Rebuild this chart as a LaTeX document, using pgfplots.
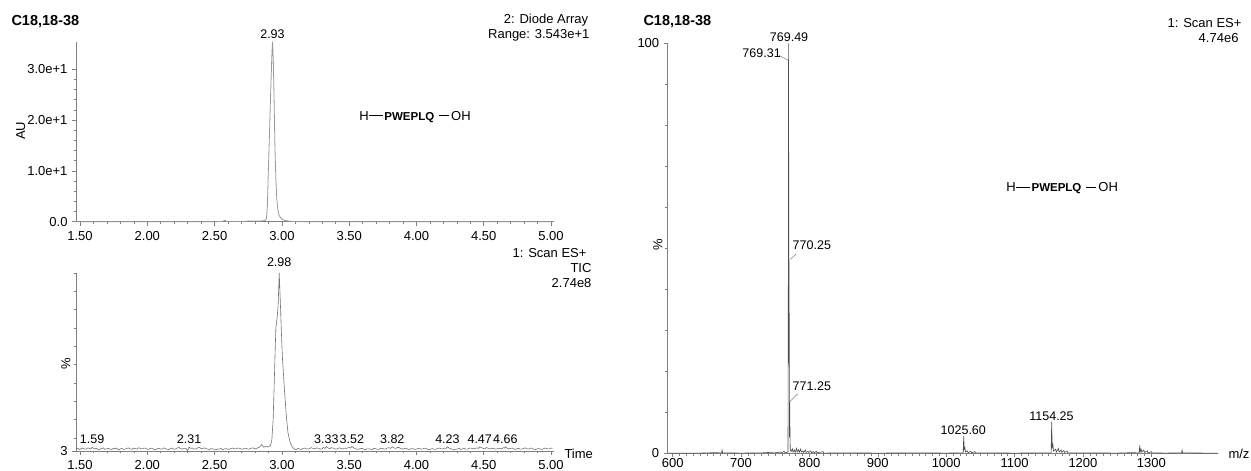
\documentclass[border=0pt]{standalone}
\usepackage{pgfplots}
\pgfplotsset{compat=1.18}
\usepackage{fontspec}
\setmainfont{Liberation Sans}
\definecolor{ax}{gray}{0.5}
\definecolor{tr1}{gray}{0.6}
\definecolor{tr2}{gray}{0.45}
\definecolor{tr3}{gray}{0.3}
\newcommand{\fs}[1]{\fontsize{#1bp}{#1bp}\selectfont}
\newcommand{\pep}{\fs{13}H\rule[4.4bp]{14bp}{0.8bp}\hspace{1.7bp}{\fs{11.5}\bfseries PWEPLQ}\hspace{5bp}\rule[4.4bp]{10bp}{0.8bp}\hspace{2bp}OH}
\pgfplotsset{
  ms/.style={
    scale only axis, clip=false,
    axis lines*=left,
    axis line style={-, draw=ax, line width=0.7bp},
    tick align=outside,
    tick style={draw=ax, line width=0.6bp},
    major tick length=4bp, minor tick length=2.5bp,
    tick label style={font=\fs{13}, black},
    /pgf/number format/assume math mode=true,
    xticklabel style={inner sep=1bp, yshift=-4.3bp},
    yticklabel style={xshift=-1bp},
  }
}
\begin{document}
\begin{tikzpicture}[x=1bp,y=1bp]
\useasboundingbox (0,0) rectangle (1251,471);

% ---------------- top-left: Diode array ----------------
\begin{axis}[ms,
  at={(76bp,249.3bp)}, anchor=south west,
  width=478bp, height=180bp,
  xmin=1.47, xmax=5.022, ymin=0, ymax=35.43,
  xtick={1.5,2,2.5,3,3.5,4,4.5,5},
  xticklabels={1.50,2.00,2.50,3.00,3.50,4.00,4.50,5.00},
  minor x tick num=4,
  ytick={0,10,20,30},
  yticklabels={0.0,1.0e+1,2.0e+1,3.0e+1},
  minor y tick num=4,
]
\addplot[tr1, line width=0.8bp] table {
1.470 0.00
2.500 0.00
2.560 0.05
2.575 0.25
2.590 0.05
2.700 0.02
2.750 0.12
2.800 0.15
2.850 0.15
2.875 0.25
2.885 0.6
2.892 3.0
2.898 9.0
2.905 15.0
2.915 24.0
2.925 32.5
2.930 35.43
2.936 32.0
2.942 24.0
2.948 15.0
2.955 8.5
2.962 4.5
2.970 2.4
2.980 1.2
2.995 0.6
3.020 0.25
3.060 0.08
3.100 0.02
3.200 0.00
5.022 0.00
};
\node[font=\fs{12.5}] at (axis cs:2.93,36.95) {2.93};
\node[anchor=west] at (axis cs:3.549,20.6) {\pep};
\end{axis}

% ---------------- bottom-left: TIC ----------------
\begin{axis}[ms,
  at={(76bp,20bp)}, anchor=south west,
  width=478bp, height=178bp,
  xmin=1.47, xmax=5.022, ymin=3, ymax=100,
  xtick={1.5,2,2.5,3,3.5,4,4.5,5},
  xticklabels={1.50,2.00,2.50,3.00,3.50,4.00,4.50,5.00},
  minor x tick num=4,
  ytick={3}, yticklabels={3},
  minor ytick={10,20,30,40,50,60,70,80,90,100},
]
\addplot[tr2, line width=0.6bp] table {
1.470 4.2
1.482 4.6
1.495 3.8
1.508 4.3
1.520 4.6
1.532 4.1
1.545 4.0
1.558 4.7
1.570 4.4
1.580 4.0
1.590 5.0
1.600 4.5
1.610 4.1
1.622 4.5
1.635 3.7
1.648 4.0
1.660 4.3
1.672 4.7
1.685 3.9
1.698 4.2
1.710 4.5
1.722 4.1
1.735 3.8
1.748 4.4
1.760 4.2
1.772 4.6
1.785 3.6
1.798 4.1
1.810 4.4
1.822 3.9
1.835 4.0
1.848 4.4
1.860 4.7
1.872 4.2
1.885 3.9
1.898 4.6
1.910 4.3
1.922 4.0
1.935 4.8
1.948 4.4
1.960 4.1
1.972 4.5
1.985 4.6
1.998 4.0
2.010 3.9
2.022 4.5
2.035 4.4
2.048 3.9
2.060 3.7
2.072 4.2
2.085 4.5
2.098 4.1
2.110 4.0
2.122 4.7
2.135 4.3
2.148 3.9
2.160 3.8
2.172 4.3
2.185 4.6
2.198 4.0
2.210 4.1
2.222 4.6
2.235 4.9
2.248 4.3
2.260 4.0
2.272 4.4
2.285 4.5
2.300 3.2
2.310 5.2
2.322 4.4
2.335 4.6
2.348 4.0
2.360 4.1
2.372 4.6
2.385 5.0
2.398 4.4
2.410 4.2
2.422 4.7
2.435 4.4
2.448 4.0
2.460 3.8
2.472 4.3
2.485 4.2
2.498 3.9
2.510 3.6
2.522 4.1
2.535 4.0
2.548 4.4
2.560 3.7
2.572 4.1
2.585 4.3
2.598 3.9
2.610 4.0
2.622 4.4
2.635 4.6
2.648 4.1
2.660 4.2
2.672 4.6
2.685 4.5
2.698 4.1
2.710 4.0
2.722 4.5
2.735 4.4
2.748 4.0
2.760 4.1
2.772 4.5
2.785 4.7
2.798 4.2
2.810 4.3
2.822 4.8
2.835 5.2
2.850 6.5
2.865 5.0
2.880 5.6
2.900 5.2
2.915 6.0
2.925 9.0
2.935 20.0
2.945 45.0
2.955 70.0
2.965 76.0
2.972 82.0
2.980 100.0
2.988 85.0
2.995 70.0
3.005 52.0
3.010 47.0
3.020 35.0
3.033 22.0
3.045 13.0
3.060 8.0
3.075 5.5
3.090 4.2
3.105 3.6
3.112 4.1
3.120 4.4
3.132 4.0
3.145 3.9
3.158 4.4
3.170 4.6
3.182 4.2
3.195 4.1
3.208 4.5
3.220 4.8
3.232 4.3
3.245 4.2
3.258 4.7
3.270 4.5
3.282 4.1
3.295 4.0
3.310 4.9
3.320 4.4
3.330 5.4
3.342 4.7
3.355 4.3
3.368 4.8
3.380 4.6
3.392 4.2
3.405 4.0
3.418 4.5
3.430 4.7
3.442 4.3
3.455 4.1
3.468 4.6
3.480 4.4
3.490 4.7
3.500 5.0
3.510 4.6
3.520 5.5
3.532 4.8
3.545 4.3
3.558 4.0
3.570 3.9
3.582 4.3
3.595 4.4
3.608 4.0
3.620 3.7
3.632 4.1
3.645 4.2
3.658 4.0
3.670 3.8
3.682 4.4
3.695 4.3
3.708 3.9
3.720 3.9
3.732 4.4
3.745 4.5
3.758 4.0
3.770 4.1
3.782 4.6
3.795 4.8
3.808 4.4
3.820 5.3
3.832 4.7
3.845 4.4
3.858 4.9
3.870 4.9
3.882 4.4
3.895 4.0
3.908 4.3
3.920 4.5
3.932 4.1
3.945 3.8
3.958 4.2
3.970 4.3
3.982 4.0
3.995 3.9
4.008 4.3
4.020 4.5
4.032 4.1
4.045 4.0
4.058 4.5
4.070 4.4
4.082 4.0
4.095 3.7
4.108 4.1
4.120 4.3
4.132 3.9
4.145 4.0
4.158 4.4
4.170 4.6
4.182 4.2
4.195 4.1
4.210 4.6
4.220 4.4
4.230 5.3
4.242 4.6
4.255 4.2
4.268 3.9
4.280 3.6
4.292 4.0
4.305 4.1
4.318 4.4
4.330 3.8
4.342 4.2
4.355 4.4
4.368 4.0
4.380 4.0
4.392 4.5
4.405 4.6
4.418 4.2
4.430 4.2
4.440 4.5
4.450 4.7
4.460 4.4
4.470 5.3
4.482 4.8
4.495 4.5
4.508 4.2
4.520 4.9
4.532 4.5
4.545 4.1
4.558 4.4
4.570 4.5
4.582 4.1
4.595 4.0
4.608 4.5
4.620 4.4
4.632 4.2
4.645 4.8
4.652 4.5
4.660 5.3
4.672 4.6
4.685 4.2
4.698 4.4
4.710 4.6
4.722 4.2
4.735 3.9
4.748 4.3
4.760 4.4
4.772 4.0
4.785 4.0
4.798 4.5
4.810 4.7
4.822 4.2
4.835 4.1
4.848 4.6
4.860 4.5
4.872 4.0
4.885 3.8
4.898 4.2
4.910 4.3
4.922 4.0
4.935 3.9
4.948 4.4
4.960 4.6
4.972 4.2
4.985 4.1
4.998 4.6
5.010 4.4
};
\node[font=\fs{12.5}] at (axis cs:2.98,106) {2.98};
\node[font=\fs{12.5}] at (axis cs:1.59,9.6) {1.59};
\node[font=\fs{12.5}] at (axis cs:2.31,9.6) {2.31};
\node[font=\fs{12.5}] at (axis cs:3.33,9.6) {3.33};
\node[font=\fs{12.5}] at (axis cs:3.52,9.6) {3.52};
\node[font=\fs{12.5}] at (axis cs:3.82,9.6) {3.82};
\node[font=\fs{12.5}] at (axis cs:4.23,9.6) {4.23};
\node[font=\fs{12.5}] at (axis cs:4.47,9.6) {4.47};
\node[font=\fs{12.5}] at (axis cs:4.66,9.6) {4.66};
\end{axis}

% ---------------- right: spectrum ----------------
\begin{axis}[ms,
  at={(667.7bp,17.7bp)}, anchor=south west,
  width=550.3bp, height=409.8bp,
  xmin=592.7, xmax=1397.5, ymin=0, ymax=100,
  xtick={600,700,800,900,1000,1100,1200,1300},
  xticklabels={600,700,800,900,1000,1100,1200,1300},
  minor x tick num=9,
  ytick={0,100},
  yticklabels={0,100},
  minor ytick={10,20,30,40,50,60,70,80,90},
  xticklabel style={yshift=4bp},
]
\addplot[tr3, line width=0.6bp] table {
592.7 0.05
640 0.05
660 0.15
671.5 0.1
672.2 0.8
673.0 0.1
700 0.05
730 0.1
745 0.25
746 0.05
758 0.3
759 0.05
763 0.5
764 0.1
768.6 0.3
769.0 30
769.31 96
769.40 88
769.49 100
769.70 62
769.95 22
770.10 40
770.25 47
770.45 25
770.80 4
771.05 7
771.25 12.6
771.55 4
772.0 1.0
773.0 0.4
775.0 1.1
776.0 0.3
778.0 0.8
779.0 0.2
781.0 1.2
782.0 0.3
784.0 0.9
785.0 0.2
787.0 1.0
788.0 0.3
790.5 0.6
791.5 0.2
794.0 0.8
795.0 0.2
798.0 0.5
799.0 0.2
802.0 0.6
803.0 0.15
806.0 0.4
807.0 0.1
810.0 0.5
811.0 0.1
820.0 0.4
821.0 0.05
850 0.1
900 0.05
960 0.1
1000 0.05
1024.8 0.1
1025.6 4.2
1026.3 1.0
1027.3 1.4
1028.3 0.3
1031 0.6
1032 0.1
1036 0.5
1037 0.1
1042 0.4
1043 0.1
1060 0.1
1100 0.05
1140 0.1
1153.4 0.1
1154.25 7.7
1155.0 1.5
1156.0 2.2
1157.0 0.5
1160.0 1.0
1161.0 0.3
1164.0 1.2
1165.0 0.3
1168.0 0.8
1169.0 0.2
1172.0 0.7
1173.0 0.2
1177.0 0.5
1178.0 0.1
1200 0.1
1250 0.05
1270 0.15
1282.2 0.1
1283.0 1.9
1283.8 0.4
1285.0 1.0
1286.0 0.3
1289.0 0.8
1290.0 0.2
1294.0 0.6
1295.0 0.1
1300.0 0.4
1301.0 0.1
1320 0.05
1344.3 0.1
1345.0 0.8
1345.8 0.1
1380 0.05
1397.5 0.05
};
\node[font=\fs{12.5}] at (axis cs:770.2,101.6) {769.49};
\node[font=\fs{12.5}] at (axis cs:730,97.6) {769.31};
\draw[ax, line width=0.5bp] (axis cs:755.8,97.1) -- (axis cs:768.9,95.9);
\node[font=\fs{12.5}, anchor=west] at (axis cs:770.4,50.8) {770.25};
\draw[ax, line width=0.5bp] (axis cs:781.2,48.7) -- (axis cs:771.7,47.3);
\node[font=\fs{12.5}, anchor=west] at (axis cs:770.4,16.4) {771.25};
\draw[ax, line width=0.5bp] (axis cs:782.7,14.5) -- (axis cs:771.4,12.6);
\node[font=\fs{12.5}] at (axis cs:1025,5.7) {1025.60};
\node[font=\fs{12.5}] at (axis cs:1154,9.1) {1154.25};
\node[anchor=west] at (axis cs:1083,64.6) {\pep};
\end{axis}

% ---------------- free texts ----------------
\node[anchor=west, font=\fs{14.5}\bfseries] at (8,449.3) {C18,18-38};
\node[anchor=west, font=\fs{14.5}\bfseries] at (640,449) {C18,18-38};
\node[anchor=east, font=\fs{13}] at (591.7,451) {2: Diode Array};
\node[anchor=east, font=\fs{13}] at (593,436) {Range: 3.543e+1};
\node[rotate=90, font=\fs{13}] at (20.7,340.2) {AU};
\node[anchor=east, font=\fs{13}] at (590,218.3) {1: Scan ES+};
\node[anchor=east, font=\fs{13}] at (595,202.7) {TIC};
\node[anchor=east, font=\fs{13}] at (595,188.3) {2.74e8};
\node[rotate=90, font=\fs{13}] at (65.8,107.7) {\%};
\node[anchor=west, font=\fs{13}] at (561,17) {Time};
\node[anchor=east, font=\fs{13}] at (1245,448.3) {1: Scan ES+};
\node[anchor=east, font=\fs{13}] at (1242,433.3) {4.74e6};
\node[rotate=90, font=\fs{13}] at (658,226) {\%};
\node[anchor=west, font=\fs{13}] at (1225,16.7) {m/z};
\end{tikzpicture}
\end{document}
